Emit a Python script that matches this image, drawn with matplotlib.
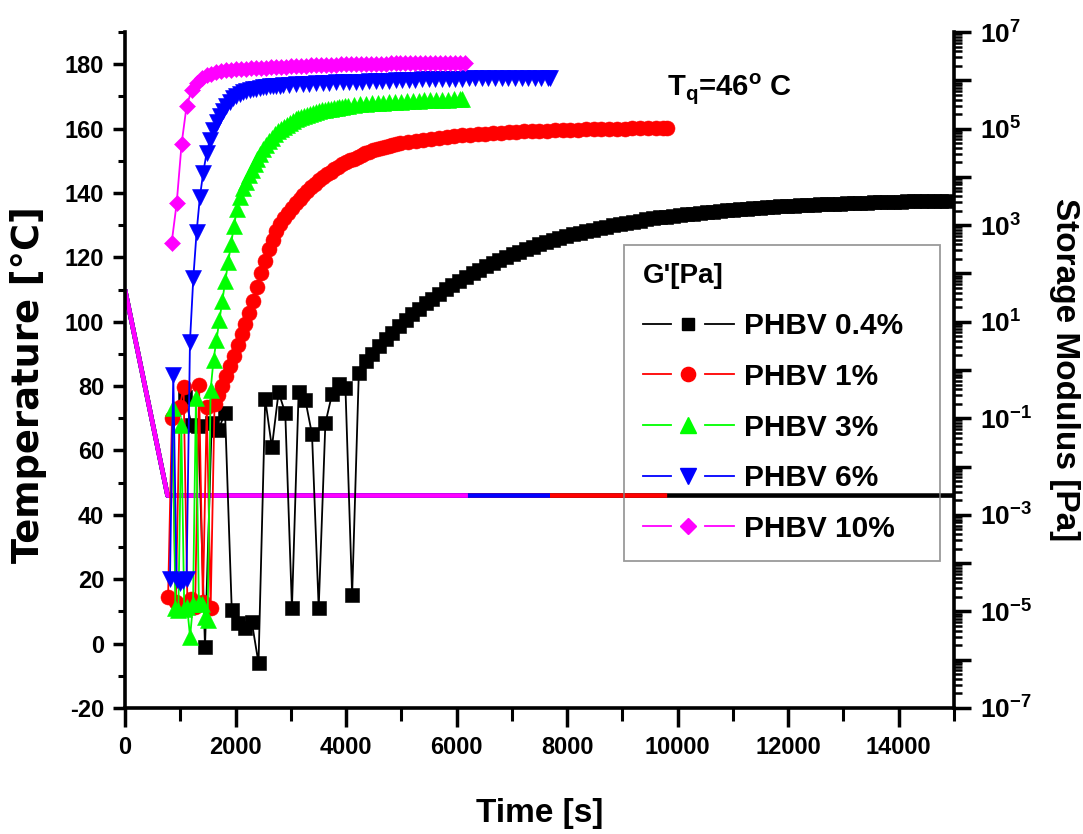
import numpy as np
import matplotlib
matplotlib.use("Agg")
import matplotlib.pyplot as plt
from matplotlib.lines import Line2D
from matplotlib.legend_handler import HandlerBase
from matplotlib.ticker import MultipleLocator, LogLocator, FuncFormatter, NullFormatter

plt.rcParams['font.family'] = ['Liberation Sans', 'DejaVu Sans']
plt.rcParams['font.weight'] = 'bold'
plt.rcParams['mathtext.fontset'] = 'custom'
plt.rcParams['mathtext.rm'] = 'Liberation Sans:bold'
plt.rcParams['mathtext.bf'] = 'Liberation Sans:bold'
plt.rcParams['mathtext.it'] = 'Liberation Sans:bold'
plt.rcParams['axes.unicode_minus'] = False

# ---------------- data ----------------
# time [s] and log10 of storage modulus G' [Pa] for each PHBV content
BLACK_T = [1085, 1206, 1327, 1448, 1569, 1690, 1811, 1932, 2053, 2174, 2295, 2416, 2537, 2658,
           2779, 2900, 3021, 3142, 3263, 3384, 3505, 3626, 3747, 3868, 3989, 4110, 4231,
           4352, 4473, 4594, 4715, 4836, 4957, 5078, 5199, 5320, 5441, 5562, 5683, 5804, 5925,
           6046, 6167, 6288, 6409, 6530, 6651, 6772, 6893, 7014, 7135, 7256, 7377, 7498, 7619,
           7740, 7861, 7982, 8103, 8224, 8345, 8466, 8587, 8708, 8829, 8950, 9071, 9192, 9313,
           9434, 9555, 9676, 9797, 9918, 10039, 10160, 10281, 10402, 10523, 10644, 10765, 10886,
           11007, 11128, 11249, 11370, 11491, 11612, 11733, 11854, 11975, 12096, 12217, 12338,
           12459, 12580, 12701, 12822, 12943, 13064, 13185, 13306, 13427, 13548, 13669, 13790,
           13911, 14032, 14153, 14274, 14395, 14516, 14637, 14758, 14879]
BLACK_LOGG = [-0.56, -1.14, -1.16, -5.74, -1.10, -1.24, -0.89, -4.97, -5.24, -5.34, -5.22, -6.07,
              -0.60, -1.60, -0.46, -0.89, -4.93, -0.46, -0.62, -1.33, -4.93, -1.10, -0.50, -0.29,
              -0.37, -4.66, -0.06,
              0.18, 0.34, 0.49, 0.64, 0.77, 0.91, 1.03, 1.15, 1.27, 1.38,
              1.48, 1.58, 1.67, 1.76, 1.85, 1.93, 2.00, 2.08, 2.15, 2.21,
              2.28, 2.34, 2.40, 2.45, 2.50, 2.55, 2.60, 2.65, 2.69, 2.73,
              2.77, 2.81, 2.84, 2.88, 2.91, 2.94, 2.97, 3.00, 3.02, 3.05,
              3.07, 3.09, 3.12, 3.14, 3.16, 3.17, 3.19, 3.21, 3.23, 3.24,
              3.26, 3.27, 3.28, 3.30, 3.31, 3.32, 3.33, 3.34, 3.35, 3.36,
              3.37, 3.38, 3.39, 3.39, 3.40, 3.41, 3.42, 3.42, 3.43, 3.43,
              3.44, 3.44, 3.45, 3.45, 3.46, 3.46, 3.47, 3.47, 3.48, 3.48,
              3.48, 3.49, 3.49, 3.49, 3.49, 3.50, 3.50, 3.50]

RED_T = [780, 850, 920, 990, 1060, 1130, 1200, 1270, 1340, 1410, 1480, 1550,
         1620, 1690, 1760, 1830, 1900, 1970, 2040, 2110, 2180, 2250, 2320, 2390, 2460, 2530,
         2600, 2670, 2740, 2810, 2880, 2950, 3020, 3090, 3160, 3230, 3300, 3370, 3440, 3510,
         3580, 3650, 3720, 3790, 3860, 3930, 4000, 4070, 4140, 4210, 4280, 4350, 4420, 4490,
         4560, 4630, 4700, 4770, 4840, 4910, 4980,
         5120, 5260, 5400, 5540, 5680, 5820, 5960, 6100, 6240, 6380, 6520, 6660, 6800, 6940,
         7080, 7220, 7360, 7500, 7640, 7780, 7920, 8060, 8200, 8340, 8480, 8620, 8760, 8900,
         9040, 9180, 9320, 9460, 9600, 9740, 9810]
RED_LOGG = [-4.70, -0.99, -4.80, -0.77, -0.35, -4.85, -4.75, -4.90, -0.31, -4.80, -0.77, -4.93,
            -0.70, -0.52, -0.33, -0.13, 0.08, 0.30, 0.52, 0.74, 0.96, 1.19, 1.42, 1.72, 2.00, 2.26,
            2.50, 2.70, 2.87, 3.02, 3.15, 3.26, 3.36, 3.45, 3.54, 3.62, 3.71, 3.79, 3.86, 3.93,
            3.99, 4.05, 4.11, 4.16, 4.21, 4.26, 4.30, 4.34, 4.38, 4.42, 4.45, 4.49, 4.52, 4.55,
            4.58, 4.60, 4.62, 4.64, 4.66, 4.68, 4.70,
            4.72, 4.74, 4.77, 4.79, 4.81, 4.83, 4.845, 4.86, 4.87, 4.88, 4.89, 4.90, 4.91, 4.92,
            4.93, 4.94, 4.95, 4.955, 4.96, 4.965, 4.97, 4.975, 4.98, 4.985, 4.99, 4.99, 4.995, 5.0,
            5.0, 5.005, 5.005, 5.01, 5.01, 5.01, 5.01]

GREEN_T = [860, 913, 966, 1019, 1072, 1125, 1178, 1231, 1284, 1337, 1390, 1443, 1496,
           1549, 1602, 1655, 1708, 1761, 1814, 1867, 1920, 1973, 2026, 2079, 2132, 2185, 2238,
           2291, 2344, 2397, 2450, 2503, 2556, 2609, 2662, 2715, 2768, 2821, 2874, 2927, 2980,
           3033, 3086, 3139, 3192, 3245, 3298, 3351, 3404, 3457, 3510, 3563, 3616, 3669, 3722,
           3775, 3828, 3881, 3934, 3987, 4040,
           4146, 4252, 4358, 4464, 4570, 4676, 4782, 4888, 4994, 5100, 5206, 5312, 5418, 5524,
           5630, 5736, 5842, 5948, 6054, 6090]
GREEN_LOGG = [-0.79, -4.92, -4.97, -1.14, -4.95, -4.91, -5.53, -4.85, -0.58, -4.83, -4.85, -5.12, -5.18,
              -0.42, 0.21, 0.62, 1.03, 1.43, 1.84, 2.23, 2.62, 2.99, 3.33, 3.58, 3.76, 3.90, 4.03,
              4.15, 4.27, 4.38, 4.48, 4.57, 4.66, 4.74, 4.81, 4.88, 4.94, 4.99, 5.04, 5.08, 5.12,
              5.16, 5.19, 5.22, 5.25, 5.27, 5.29, 5.31, 5.33, 5.35, 5.365, 5.38, 5.39, 5.40, 5.41,
              5.42, 5.43, 5.44, 5.45, 5.46, 5.47,
              5.485, 5.50, 5.51, 5.52, 5.53, 5.54, 5.55, 5.555, 5.56, 5.57, 5.575, 5.58, 5.585, 5.59,
              5.595, 5.60, 5.60, 5.605, 5.61, 5.61]

BLUE_T = [814, 874, 934, 994, 1054, 1114,
          1176, 1236, 1296, 1356, 1416, 1476, 1536, 1596, 1656, 1716, 1776, 1836, 1896, 1956,
          2016, 2076, 2136, 2196, 2256, 2316, 2376, 2436, 2496, 2556, 2616, 2676, 2736, 2796, 2856,
          2976, 3096, 3216, 3336, 3456, 3576, 3696, 3816, 3936, 4056, 4176, 4296, 4416, 4536,
          4656, 4776, 4896, 5016, 5136, 5256, 5376, 5496, 5616, 5736, 5856, 5976, 6096, 6216,
          6336, 6456, 6576, 6696, 6816, 6936, 7056, 7176, 7296, 7416, 7536, 7656, 7690]
BLUE_LOGG = [-4.32, -0.10, -4.35, -4.42, -4.38, -4.32,
             0.59, 1.90, 2.86, 3.59, 4.09, 4.49, 4.76, 4.97, 5.13, 5.26, 5.37, 5.47, 5.56, 5.63,
             5.68, 5.72, 5.755, 5.78, 5.80, 5.815, 5.83, 5.845, 5.855, 5.865, 5.875, 5.88, 5.885, 5.89, 5.895,
             5.905, 5.915, 5.925, 5.93, 5.94, 5.945, 5.95, 5.955, 5.96, 5.965, 5.97, 5.975, 5.98, 5.985,
             5.99, 5.995, 6.0, 6.005, 6.01, 6.015, 6.02, 6.02, 6.025, 6.03, 6.03, 6.035, 6.035, 6.04,
             6.04, 6.04, 6.045, 6.045, 6.045, 6.05, 6.05, 6.05, 6.05, 6.055, 6.055, 6.055, 6.055]

MAGENTA_T = [845, 935, 1025, 1115, 1205, 1295, 1385, 1475, 1565, 1655, 1745, 1835, 1925, 2015,
             2105, 2195, 2285, 2375, 2465, 2555, 2645, 2735, 2825, 2915, 3005, 3095, 3185, 3275,
             3365, 3455, 3545, 3635, 3725, 3815, 3905, 3995, 4085, 4175, 4265, 4355, 4445, 4535,
             4625, 4715, 4805, 4895, 4985, 5075, 5165, 5255, 5345, 5435, 5525, 5615, 5705, 5795,
             5885, 5975, 6065, 6155]
MAGENTA_LOGG = [2.64, 3.45, 4.69, 5.47, 5.79, 5.94, 6.04, 6.10, 6.14, 6.17,
                6.19, 6.205, 6.215, 6.225, 6.235, 6.24, 6.25, 6.255, 6.26, 6.265,
                6.27, 6.275, 6.28, 6.285, 6.29, 6.295, 6.30, 6.305, 6.31, 6.31,
                6.315, 6.32, 6.32, 6.325, 6.33, 6.33, 6.335, 6.335, 6.34, 6.34,
                6.34, 6.345, 6.345, 6.345, 6.35, 6.35, 6.35, 6.35, 6.35, 6.355,
                6.355, 6.355, 6.355, 6.355, 6.355, 6.355, 6.36, 6.36, 6.36, 6.36]

# temperature program: start, end of cooling ramp, isothermal hold (one per run)
TEMP_T = [0, 770]
TEMP_V = [110, 46]
RUN_END = [15000, 9810, 6090, 7690, 6205]

LABELS = ['PHBV 0.4%', 'PHBV 1%', 'PHBV 3%', 'PHBV 6%', 'PHBV 10%']
COLORS = ['#000000', '#ff0000', '#00ff00', '#0000ff', '#ff00ff']
MARKERS = ['s', 'o', '^', 'v', 'D']
MSIZES = [9.5, 10.8, 11.5, 11.5, 8.5]

series = [(BLACK_T, BLACK_LOGG), (RED_T, RED_LOGG), (GREEN_T, GREEN_LOGG),
          (BLUE_T, BLUE_LOGG), (MAGENTA_T, MAGENTA_LOGG)]
for t, g in series:
    if len(t) != len(g):
        raise ValueError('time and modulus lists differ in length')


class SplitLineHandler(HandlerBase):
    """Legend key drawn as: line segment, marker, line segment."""
    def create_artists(self, legend, orig_handle, xdescent, ydescent, width, height,
                       fontsize, trans):
        y = height / 2.0 - ydescent
        x0 = -xdescent
        c = orig_handle.get_color()
        lw = orig_handle.get_linewidth()
        seg = 0.31 * width
        a = Line2D([x0, x0 + seg], [y, y], color=c, lw=lw)
        b = Line2D([x0 + width - seg, x0 + width], [y, y], color=c, lw=lw)
        m = Line2D([x0 + width / 2.0], [y], linestyle='none',
                   marker=orig_handle.get_marker(),
                   markersize=orig_handle.get_markersize() * 0.95,
                   color=c, mec=c, mfc=c)
        for art in (a, b, m):
            art.set_transform(trans)
        return [a, b, m]


fig = plt.figure(figsize=(10.83, 8.34), dpi=100)
ax = fig.add_axes([0.1154, 0.1511, 0.7655, 0.8105])
ax2 = ax.twinx()

# temperature traces (left axis)
for end, c in zip(RUN_END, COLORS):
    ax.plot(TEMP_T + [end], TEMP_V + [TEMP_V[-1]], color=c, lw=3.3,
            solid_capstyle='butt', zorder=2)

# storage modulus traces (right axis)
handles = []
for (t, g), c, m, ms, lab in zip(series, COLORS, MARKERS, MSIZES, LABELS):
    h, = ax2.plot(t, 10.0 ** np.asarray(g), color=c, lw=1.3, marker=m, ms=ms,
                  mec=c, mfc=c, mew=0.4, label=lab)
    handles.append(h)

ax.set_xlim(0, 15000)
ax.set_ylim(-20, 190)
ax2.set_yscale('log')
ax2.set_ylim(1e-7, 1e7)

ax.xaxis.set_major_locator(MultipleLocator(2000))
ax.xaxis.set_minor_locator(MultipleLocator(1000))
ax.yaxis.set_major_locator(MultipleLocator(20))
ax.yaxis.set_minor_locator(MultipleLocator(10))
ax.set_yticks(np.arange(-20, 181, 20))

ax2.yaxis.set_major_locator(LogLocator(base=10, numticks=30))
ax2.yaxis.set_minor_locator(LogLocator(base=10, subs=np.arange(2, 10), numticks=30))
ax2.yaxis.set_minor_formatter(NullFormatter())


def decade_label(v, pos):
    e = int(round(np.log10(v)))
    if e % 2 == 0:
        return ''
    return r'$\mathbf{10^{%d}}$' % e


ax2.yaxis.set_major_formatter(FuncFormatter(decade_label))

for a in (ax, ax2):
    a.spines['top'].set_visible(False)
    for s in a.spines.values():
        s.set_linewidth(2.6)
ax.spines['right'].set_visible(False)
ax2.spines['left'].set_visible(False)
ax2.spines['bottom'].set_visible(False)

ax.tick_params(axis='x', which='major', direction='out', length=14, width=2.5,
               labelsize=17, pad=6)
ax.tick_params(axis='x', which='minor', direction='out', length=9, width=2.2)
ax.tick_params(axis='y', which='major', direction='out', length=9, width=2.5,
               labelsize=17, pad=6)
ax.tick_params(axis='y', which='minor', direction='out', length=5, width=2.2)
ax2.tick_params(axis='y', which='major', direction='out', length=12, width=2.5,
                labelsize=19, pad=7)
ax2.tick_params(axis='y', which='minor', direction='out', length=6, width=1.8)
for lab in ax.get_xticklabels() + ax.get_yticklabels():
    lab.set_fontweight('bold')

ax.set_xlabel('Time [s]', fontsize=24, fontweight='bold', labelpad=28)
ax.set_ylabel('Temperature [°C]', fontsize=26.5, fontweight='bold',
              family=['DejaVu Sans'])
ax.yaxis.set_label_coords(-0.094, 0.479)
ax2.set_ylabel('Storage Modulus [Pa]', fontsize=24, fontweight='bold',
               rotation=270, va='bottom', labelpad=12)

ax2.text(0.654, 0.905, r'T$_\mathbf{q}$=46$^\mathbf{o}$ C', transform=ax2.transAxes,
         fontsize=21, fontweight='bold', ha='left', va='baseline')

leg = ax2.legend(handles, LABELS, handler_map={Line2D: SplitLineHandler()},
                 loc='upper left', bbox_to_anchor=(0.602, 0.222, 0.381, 0.463),
                 mode='expand', borderaxespad=0,
                 title="G'[Pa]", alignment='left',
                 prop={'size': 21.5, 'weight': 'bold'},
                 title_fontproperties={'size': 20, 'weight': 'bold'},
                 handlelength=3.05, handletextpad=0.35, labelspacing=0.76,
                 borderpad=0.62, fancybox=False, frameon=True)
leg.get_frame().set_facecolor('none')
leg.get_frame().set_edgecolor('#808080')
leg.get_frame().set_linewidth(1.3)

fig.savefig('out.png', dpi=100)
